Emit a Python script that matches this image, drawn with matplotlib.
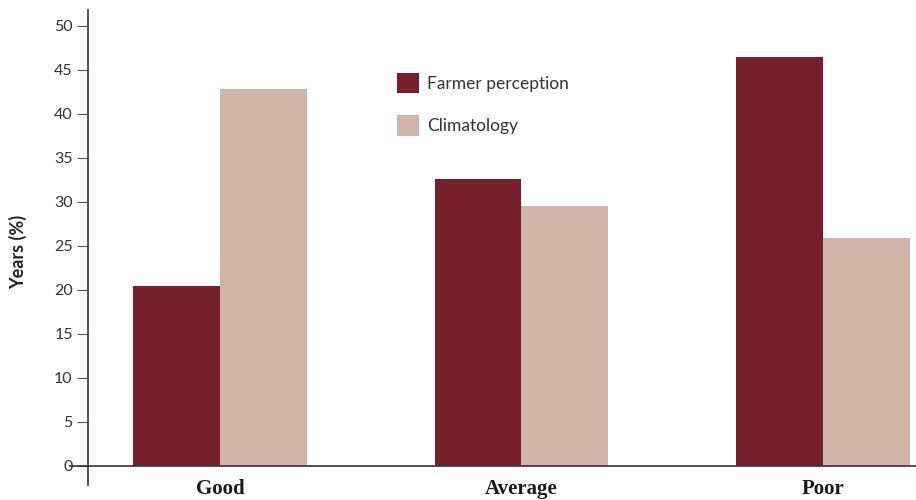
import matplotlib
matplotlib.use("Agg")
import matplotlib.pyplot as plt
import numpy as np

categories = ["Good", "Average", "Poor"]
farmer_perception = [20.5, 32.6, 46.5]
climatology = [42.8, 29.5, 25.9]
y_ticks = [0, 5, 10, 15, 20, 25, 30, 35, 40, 45, 50]

dark = "#76202A"
light = "#D2B4A9"

fig = plt.figure(figsize=(9.16, 5.0), dpi=100)
ax = fig.add_axes([88 / 916, 15 / 500, (916 - 88) / 916, 475 / 500])

x = np.arange(len(categories))
w = 0.287
ax.bar(x - w / 2, farmer_perception, width=w, color=dark, label="Farmer perception")
ax.bar(x + w / 2, climatology, width=w, color=light, label="Climatology")

ax.set_xlim(-0.4378, 2.3085)
ax.set_ylim(-2.16, 51.8)

for s in ["top", "right", "bottom"]:
    ax.spines[s].set_visible(False)
ax.spines["left"].set_color("#333333")
ax.spines["left"].set_linewidth(1.2)

# baseline at zero, running slightly left of the axis
ax.plot([-0.497, 2.3085], [0, 0], color="#333333", lw=1.2, clip_on=False, zorder=3)

ax.set_yticks(y_ticks)
ax.set_yticklabels([str(t) for t in y_ticks], fontfamily="Lato", fontsize=11.5, color="#333333")
ax.tick_params(axis="y", direction="out", length=8, width=0.8, color="#555555", pad=3)
ax.set_xticks([])

for xi, c in zip(x, categories):
    ax.text(xi, -2.6, c, ha="center", va="center", fontsize=15, fontweight="bold",
            fontfamily="Liberation Serif", color="#1a1a1a", clip_on=False)

fig.text(18 / 916, 1 - 252 / 500, "Years (%)", rotation=90, ha="center", va="center",
         fontsize=13, fontweight="bold", fontfamily="Lato", color="#222222")

leg = ax.legend(loc="upper left", bbox_to_anchor=((381 - 88) / 828, 1 - (57 - 10) / 475),
                frameon=False, prop={"family": "Lato", "size": 12.5},
                handlelength=1.3, handleheight=1.45, labelspacing=1.25, handletextpad=0.45)
for t in leg.get_texts():
    t.set_color("#333333")

fig.savefig("out.png", dpi=100)
